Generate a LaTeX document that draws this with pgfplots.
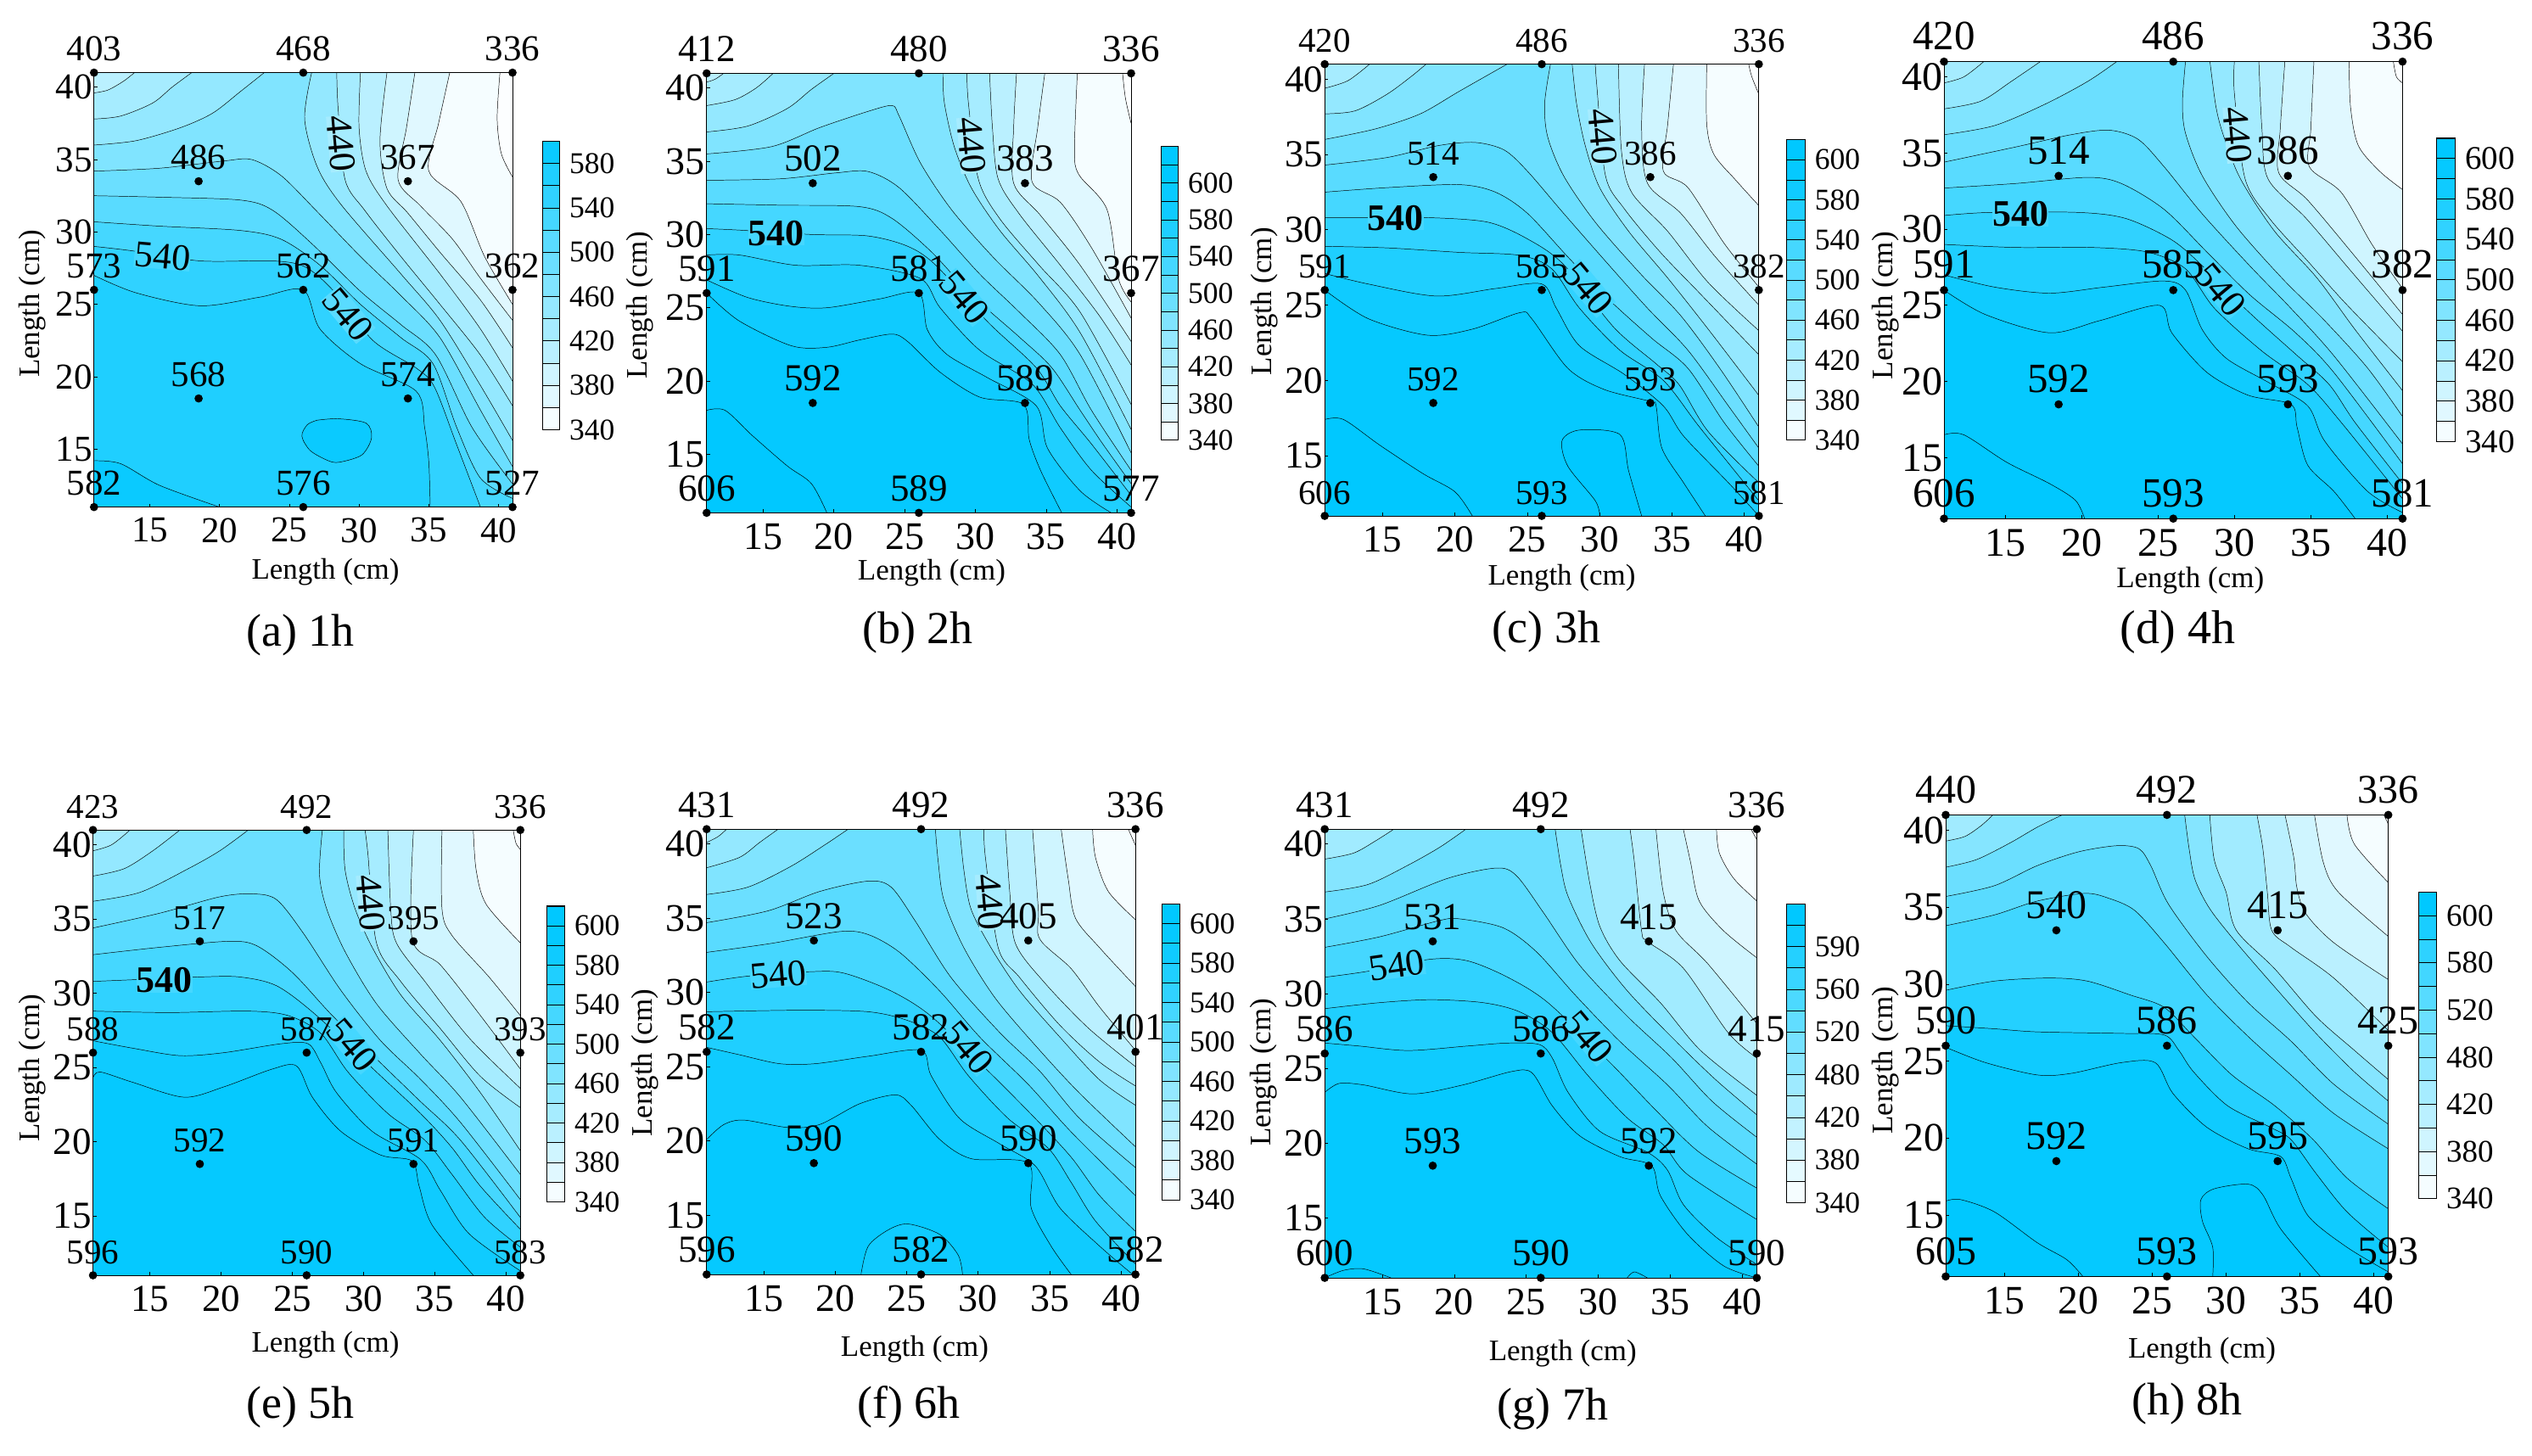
\documentclass[border=0pt]{standalone}
\usepackage{pgfplots}
\pgfplotsset{compat=1.18}
\usepackage{fontspec}
\setmainfont{Liberation Serif}
\definecolor{cb}{RGB}{0,200,255}
\newcommand\fs[1]{\fontsize{#1pt}{#1pt}\selectfont}
\newcommand\Cx[3]{%
 \addplot[smooth,draw=none,fill=cb!#1!white,forget plot] coordinates {#2} #3;
 \addplot[smooth,black,line width=.12pt,forget plot] coordinates {#2};}
\newcommand\TR[2]{\Cx{#1}{#2}{-- (axis cs:41,41) -- cycle}}
\newcommand\LR[2]{\Cx{#1}{#2}{-- (axis cs:41,41) -- (axis cs:11,41) -- cycle}}
\newcommand\LB[2]{\Cx{#1}{#2}{-- (axis cs:41,11) -- (axis cs:41,41) -- (axis cs:11,41) -- cycle}}
\newcommand\TL[2]{\Cx{#1}{#2}{-- (axis cs:11,41) -- cycle}}
\newcommand\BL[2]{\Cx{#1}{#2}{-- (axis cs:11,11) -- cycle}}
\newcommand\CY[2]{\Cx{#1}{#2}{-- cycle}}
\newcommand\Lb[5]{\node[rotate=#3,fill=cb!#4!white,inner sep=0pt,font=\fs{11}] at (axis cs:#1,#2) {#5};}
\newcommand\Bars[1]{\foreach \bp [count=\bi from 0] in {#1}{\pgfmathtruncatemacro\bj{\bi+1}\edef\tmpA{\noexpand\addplot[fill=cb!\bp!white,draw=black,line width=.15pt,forget plot] coordinates {(0,\bi)(1,\bi)(1,\bj)(0,\bj)} -- cycle;}\tmpA}}
\pgfplotsset{
 pan/.style n args={3}{scale only axis,anchor=south west,xmin=11,xmax=41,ymin=11,ymax=41,
  xtick={15,20,...,40},ytick={15,20,...,40},tick align=inside,xtick pos=bottom,ytick pos=left,
  major tick length=1pt,axis on top,axis line style={line width=.2pt},every tick/.style={black,line width=.2pt},
  /pgf/number format/assume math mode=true,
  tick label style={font=\fs{#2}},
  xticklabel style={inner sep=0pt,yshift=-3pt},
  yticklabel style={inner sep=0pt,xshift=-.3pt},
  xlabel=Length (cm),ylabel=Length (cm),
  label style={font=\fs{8.75}},
  axis background/.style={fill=cb!#1!white},
  every node near coord/.append style={font=\fs{#3},anchor=south,inner sep=0pt,yshift=3.2pt,black}},
 cbar/.style n args={2}{scale only axis,anchor=south west,xmin=0,xmax=1,ymin=0,ymax=#1,xtick=\empty,
  ytick pos=right,yticklabel pos=right,major tick length=0pt,axis on top,axis line style={line width=.2pt},
  tick label style={font=\fs{#2}},yticklabel style={inner sep=0pt,xshift=2.7pt}},
 dots/.style={only marks,mark=*,mark size=1pt,black,point meta=explicit symbolic,nodes near coords,forget plot},
 xl/.style 2 args={xlabel style={at={(axis description cs:#1,#2)},anchor=center}},
 yl/.style 2 args={ylabel style={at={(axis description cs:#1,#2)},anchor=center,rotate=0}}
}
\begin{document}
\begin{tikzpicture}
\path[use as bounding box] (0pt,0pt) rectangle (746pt,-428.75pt);
% ---------- (a)
\begin{axis}[pan={88}{10.75}{10.75},at={(27.7pt,-149.4pt)},width=123.3pt,height=128pt,xl={.553}{-.149},yl={-.148}{.468}]
\BL{96}{(11,14.2)(12.9,14)(15.7,12.5)(20,11)}
\CY{96}{(27,17)(28.5,17.1)(30.5,16.8)(30.9,15.8)(30.2,14.6)(28.6,14.1)(27.8,14.2)(26.5,14.9)(25.9,15.9)(26.3,16.7)(27,17)}
\LB{81}{(11,27)(14,25.8)(18.6,24.9)(22.9,25.5)(26,26)(27.2,23.3)(30.1,20.9)(34.1,19)(34.7,16.5)(35,14.1)(35.1,11)}
\LB{73}{(11,29)(13.7,28.7)(18.6,28)(23.8,28)(26.1,27.6)(28.1,26)(31,22.5)(34.1,20.6)(35.4,19.3)(37,15.3)(38.7,11)}
\LR{65}{(11,30.7)(15.7,30.4)(21.5,30.1)(24.4,29.5)(27.2,27.7)(30.1,25)(33,22.7)(35.3,20.9)(37,16.5)(38.7,13)(41,11.6)}
\LR{58}{(11,32.5)(15.7,32.4)(21.5,32.2)(23.8,31.5)(26.6,29.2)(30.1,25.9)(33,23.6)(35.5,21.5)(38.1,16.5)(41,12.6)}
\LR{50}{(11,34.2)(15.7,34.4)(20.3,34.9)(22.3,35)(24.4,33.9)(26.9,31.5)(30.1,28.3)(33,25.6)(35.8,22.7)(38.7,17.7)(41,13.8)}
\TL{42}{(11,36)(14,36.3)(17.2,37.2)(19.5,38.2)(21.5,39.7)(23.2,41)}
\TR{42}{(26.6,41)(26.1,37.8)(27,34.5)(28.7,31.9)(33,27.1)(35.8,23.9)(38.7,19.4)(41,15.6)}
\TL{35}{(11,37.8)(12.9,38)(15.2,38.9)(16.6,40)(18,41)}
\TR{35}{(28.4,41)(28.5,38.5)(29,33.6)(30.4,31.5)(33,28.3)(35.8,25)(38.7,21.5)(41,18)}
\TL{27}{(11,39.6)(12,39.8)(13.1,40.4)(13.9,41)}
\TR{27}{(30.1,41)(30,37.2)(30.5,34.2)(32,31.8)(35.8,27.1)(38.7,23.3)(41,19.7)}
\TR{19}{(32,41)(31.5,36.3)(32,33)(33.5,31.3)(35.8,28.6)(38.7,25.3)(41,22)}
\TR{12}{(34,41)(33.4,37.2)(32.8,33.6)(34.4,31.8)(36.7,29.5)(38.7,26.8)(41,23.9)}
\TR{4}{(36.5,41)(35.7,37.5)(35,34.2)(37.3,32.1)(39,28.3)(41,25)}
\TR{1}{(40.1,41)(39.9,37.8)(40.2,35.4)(41,33.8)}
\addplot[dots] coordinates {(11,41)[403](26,41)[468](41,41)[336](18.5,33.5)[486](33.5,33.5)[367](11,26)[573](26,26)[562](41,26)[362](18.5,18.5)[568](33.5,18.5)[574](11,11)[582](26,11)[576](41,11)[527]};
\Lb{28.7}{36.1}{-85}{35}{440}\Lb{15.9}{28.3}{-5}{73}{540}\Lb{29.2}{24.3}{-50}{65}{540}
\end{axis}
\begin{axis}[cbar={13}{8.9},at={(159.9pt,-126.6pt)},width=4.95pt,height=85pt,ytick={0,2,...,12},yticklabels={340,380,420,460,500,540,580}]
\Bars{4,12,19,27,35,42,50,58,65,73,81,88,96}
\end{axis}
\node[font=\fs{13.5}] at (88.5pt,-187pt) {(a) 1h};
% ---------- (b)
\begin{axis}[pan={98}{11.5}{11.25},at={(208.2pt,-151.1pt)},width=125.05pt,height=129.5pt,xl={.53}{-.136},yl={-.157}{.472}]
\BL{100}{(11,18)(12.3,18)(14.2,16.3)(16.7,14.2)(18.4,13)(19.5,11)}
\LB{94}{(11,26)(13.3,24.1)(17,22.4)(19.5,22.3)(21.8,22.8)(24.1,23.2)(25.2,22.7)(27.5,20.6)(30.3,18.9)(33.4,18.4)(33.8,16)(34.6,13.9)(36.1,11)}
\LB{88}{(11,26.9)(13.9,25.7)(16.9,25.1)(19.5,25)(23.2,25.6)(26,26)(26.6,23.5)(28,21.8)(30.9,20.2)(34.3,18.3)(35.1,15.4)(37.4,12.5)(39.6,11)}
\LR{81}{(11,28.6)(13.3,28.6)(17.3,27.9)(21.8,27.9)(26.1,27)(27.5,25)(30.3,22.1)(34,19.8)(36,16.8)(38.2,13.9)(41,11.4)}
\LR{73}{(11,30.4)(13.3,30.3)(18.4,30)(22.4,29.9)(25.2,29.2)(27.2,27.9)(30.9,24)(34.3,20.9)(36,18.3)(38.2,15.7)(41,12.2)}
\LR{65}{(11,32.1)(16.2,32)(21.8,31.9)(24.1,31.1)(26.9,28.8)(29.7,25.9)(33.1,23)(35.4,20.9)(37.4,18)(39,15.7)(41,13)}
\LR{58}{(11,33.7)(16.2,33.8)(20.1,34.2)(22.4,34.3)(24.6,33.2)(27.5,30.3)(30.3,27.3)(33.1,24.7)(36,21.8)(38.2,18)(41,13.9)}
\LR{50}{(11,35.5)(15.6,36)(19,37.3)(22.4,38.4)(24.1,38.8)(24.6,38.1)(26.1,34.9)(28.3,31.7)(31.2,28.5)(34.5,25.3)(37.4,21.8)(41,15.1)}
\TL{42}{(11,37)(13.9,37.4)(16.7,38.6)(18.4,39.9)(20,41)}
\TR{42}{(27.7,41)(27.8,39)(28.5,36)(29.7,33.2)(31.7,30.3)(34.5,27.1)(37.4,23.3)(41,16.7)}
\TL{35}{(11,38.8)(13,39.2)(14.5,40)(15.7,41)}
\TR{35}{(29.4,41)(29.5,39)(30.2,33.8)(31.7,31.1)(34.5,27.9)(37.4,24.7)(41,18.4)}
\TL{27}{(11,40.4)(11.6,40.6)(12.2,41)}
\TR{27}{(31,41)(31.2,37.3)(31.6,33.8)(33.1,31.4)(36,27.9)(38.8,24.4)(41,21.1)}
\TR{19}{(32.9,41)(32.7,37.3)(32.7,33.5)(34.6,31.3)(37.4,27.9)(41,22.7)}
\TR{12}{(34.9,41)(34.4,37.3)(34,33.6)(36,32.2)(38.2,29.1)(41,24.3)}
\TR{4}{(37.2,41)(37,35.8)(37.3,34.1)(39.3,31.7)(40.1,27)(41,25.4)}
\TR{1}{(40.4,41)(40.6,39.3)(41,37.6)}
\addplot[dots] coordinates {(11,41)[412](26,41)[480](41,41)[336](18.5,33.5)[502](33.5,33.5)[383](11,26)[591](26,26)[581](41,26)[367](18.5,18.5)[592](33.5,18.5)[589](11,11)[606](26,11)[589](41,11)[577]};
\Lb{29.7}{36.1}{-85}{35}{440}\Lb{15.9}{30.1}{0}{73}{\bfseries 540}\Lb{29.2}{25.7}{-50}{73}{540}
\end{axis}
\begin{axis}[cbar={16}{8.9},at={(342pt,-129.7pt)},width=5.1pt,height=86.65pt,ytick={0,2,...,14},yticklabels={340,380,420,460,500,540,580,600}]
\Bars{4,12,19,27,35,42,50,58,65,73,81,88,94,97,100,100}
\end{axis}
\node[font=\fs{13.5}] at (270.4pt,-186.4pt) {(b) 2h};
% ---------- (c)
\begin{axis}[pan={98}{11.25}{10.25},at={(390.3pt,-152pt)},width=127.9pt,height=133.1pt,xl={.546}{-.137},yl={-.139}{.475}]
\BL{100}{(11,17.4)(12.3,17.4)(14.8,15.7)(17.8,13.8)(20,12.6)(21.2,11)}
\CY{100}{(30,11)(29.7,12)(27.8,14.3)(27.4,16)(28.6,16.7)(31.4,16.4)(32,14)(32.9,11)}
\LB{94}{(11,26)(14,24.1)(18.1,23)(21.2,23.4)(24.5,24.5)(25.3,24.1)(27.8,20.8)(30.3,19.4)(33.5,18.6)(33.9,18.3)(34.3,15.5)(35.8,13.2)(37.3,11)}
\LR{88}{(11,27.1)(14,26.4)(18.7,25.6)(22.8,26.1)(26,26.4)(27,24.8)(28.6,22.3)(31.7,20.4)(34.4,18.3)(35.8,16.3)(38.9,13.2)(41,11)}
\LR{81}{(11,28.9)(15.3,28.8)(20.3,28.5)(24.5,28.3)(26.7,27.4)(28.6,24.8)(31.4,22)(34.4,20)(36.9,16.9)(41,12)}
\LR{73}{(11,30.8)(14,30.8)(18.4,30.8)(22.3,30.5)(25,29.4)(27.5,27.7)(31,23.5)(33.9,21.1)(35.5,19.7)(37.5,16.6)(41,13.2)}
\LR{65}{(11,32.5)(15.3,32.8)(20.3,33)(22.8,32.5)(25,31.1)(27.8,28.2)(30.6,25.4)(33.6,22.8)(36.1,20.8)(38.6,17.2)(41,14.3)}
\LR{58}{(11,34.3)(15.3,34.8)(18.9,35.6)(21.4,35.8)(23.4,35.3)(25,33.9)(27.5,31.1)(30.6,27.7)(33.3,24.8)(36.1,22)(38.9,18.3)(41,15.5)}
\TL{50}{(11,36)(14.5,36.7)(17.6,37.7)(20.3,39.2)(23.6,41)}
\TR{50}{(26.6,41)(26.2,38.4)(26.4,36.2)(27.5,33.6)(29.7,30.5)(32.8,27.1)(35.6,24.3)(38.3,20.8)(41,16.9)}
\TL{42}{(11,37.7)(13.1,37.9)(15.3,39)(17,40.2)(18,41)}
\TR{42}{(28.1,41)(28.4,38.4)(29,35.6)(30,32.8)(32,29.9)(34.7,26.8)(37.5,23.4)(41,19)}
\TL{35}{(11,39.4)(12.6,39.9)(14.1,41)}
\TR{35}{(29.7,41)(29.8,39.6)(30.4,33.6)(31.7,31.4)(34.2,28.5)(37,25.7)(41,21.7)}
\TR{27}{(31.3,41)(31.5,35.3)(32.2,32.5)(34.7,29.9)(37.5,26.5)(41,23.3)}
\TR{19}{(33.1,41)(32.9,36.7)(33.3,33.1)(35.6,31.1)(38,28.2)(41,25)}
\TR{12}{(35.1,41)(34.7,37)(34.4,33.9)(36.1,32.8)(38.6,29.1)(41,26.2)}
\TR{4}{(37.4,41)(37.4,37)(37.9,35)(39.4,33.3)(41,31.6)}
\TR{1}{(40.3,41)(40.5,40.2)(41,39)}
\addplot[dots] coordinates {(11,41)[420](26,41)[486](41,41)[336](18.5,33.5)[514](33.5,33.5)[386](11,26)[591](26,26)[585](41,26)[382](18.5,18.5)[592](33.5,18.5)[593](11,11)[606](26,11)[593](41,11)[581]};
\Lb{30.2}{36.2}{-85}{35}{440}\Lb{15.9}{30.8}{0}{73}{\bfseries 540}\Lb{29.2}{26.1}{-50}{73}{540}
\end{axis}
\begin{axis}[cbar={15}{8.9},at={(526.4pt,-129.7pt)},width=5.4pt,height=88.55pt,ytick={0,2,...,14},yticklabels={340,380,420,460,500,540,580,600}]
\Bars{4,12,19,27,35,42,50,58,65,73,81,88,94,98,100}
\end{axis}
\node[font=\fs{13.5}] at (455.6pt,-186.15pt) {(c) 3h};
% ---------- (d)
\begin{axis}[pan={98}{12}{12.25},at={(572.75pt,-152.8pt)},width=135.1pt,height=134.65pt,xl={.537}{-.136},yl={-.127}{.466}]
\BL{100}{(11,16.5)(12.3,16.5)(15.1,14.7)(17.9,13.3)(19.6,12.2)(20.2,11)}
\LB{94}{(11,26)(13.7,24.4)(17.9,23.2)(21.2,24)(25.1,25)(25.9,23.2)(28.2,20.6)(30.9,19.1)(33.7,18.5)(34.1,17)(34.8,14.5)(36.5,12.8)(37.9,11)}
\LR{88}{(11,27)(14.3,26.2)(17.9,25.8)(21.5,26.2)(25.4,26.6)(26.8,26)(27.9,23.4)(29.5,21.5)(32.3,19.9)(34.8,18.4)(35.9,16.1)(38.7,12.8)(41,11.4)}
\LR{81}{(11,29)(15.7,28.8)(20.7,28.8)(24.3,28.5)(26.8,27.4)(28.7,24.8)(31.8,22)(34.8,19.8)(37,17.3)(41,12.3)}
\LR{73}{(11,30.9)(14,31.1)(19.8,31.1)(22.9,30.7)(25.9,29.3)(27.9,27.6)(30.9,24.6)(34,21.8)(36.2,19.8)(37.9,17.3)(41,13.3)}
\LR{65}{(11,32.7)(15.7,33)(20.4,33.4)(22.6,33)(25.4,31.3)(28.2,28.5)(31,25.7)(34,23.2)(36.5,20.6)(41,14.6)}
\LR{58}{(11,34.4)(15.7,35.4)(19.3,36.2)(21.8,36.5)(23.7,35.9)(25.4,34.1)(27.9,31)(31,27.6)(33.7,24.8)(36.5,21.7)(41,15.9)}
\TL{50}{(11,36.2)(14.3,36.8)(17.6,38.2)(20.4,39.7)(22.3,41)}
\TR{50}{(26.8,41)(26.6,38.3)(26.8,36.3)(27.9,33.5)(30.1,30.2)(33.1,26.8)(35.9,24)(38.7,20.9)(41,17.7)}
\TL{42}{(11,37.9)(13.4,38.4)(15.4,39.7)(17.3,41)}
\TR{42}{(28.4,41)(28.8,38)(29.3,36.1)(30.4,33.3)(32.6,29.9)(35.4,26.8)(37.9,23.4)(41,19.4)}
\TL{35}{(11,39.6)(12.3,40)(13.6,41)}
\TR{35}{(30,41)(30,38.9)(30.7,33.3)(32.3,30.7)(34.8,27.9)(37.3,25.1)(41,21.3)}
\TR{27}{(31.6,41)(31.8,36.6)(32.2,33.3)(34.7,30.7)(37.5,27.4)(41,23.3)}
\TR{19}{(33.3,41)(33,36.6)(32.9,33.7)(34.8,31.9)(37.9,28.2)(41,24.4)}
\TR{12}{(35.2,41)(35,36.6)(34.9,34.1)(37,32.4)(39,29)(41,26.1)}
\TR{4}{(37.5,41)(37.6,38)(38.1,35.5)(39.5,33.8)(41,32.6)}
\TR{1}{(40.4,41)(40.6,40)(41,39.6)}
\addplot[dots] coordinates {(11,41)[420](26,41)[486](41,41)[336](18.5,33.5)[514](33.5,33.5)[386](11,26)[591](26,26)[585](41,26)[382](18.5,18.5)[592](33.5,18.5)[593](11,11)[606](26,11)[593](41,11)[581]};
\Lb{30.2}{36.2}{-85}{35}{440}\Lb{16}{31}{0}{73}{\bfseries 540}\Lb{29.1}{26}{-50}{73}{540}
\end{axis}
\begin{axis}[cbar={15}{9.75},at={(717.9pt,-130.1pt)},width=5.5pt,height=89.4pt,ytick={0,2,...,14},yticklabels={340,380,420,460,500,540,580,600}]
\Bars{4,12,19,27,35,42,50,58,65,73,81,88,94,98,100}
\end{axis}
\node[font=\fs{14}] at (641.6pt,-186.15pt) {(d) 4h};
% ---------- (e)
\begin{axis}[pan={98}{11.25}{10.25},at={(27.4pt,-375.75pt)},width=125.9pt,height=131.2pt,xl={.544}{-.156},yl={-.142}{.465}]
\LB{94}{(11,24.3)(11.5,24.7)(13.8,24)(17.4,23)(20.2,23.7)(23.6,24.9)(25.3,25.1)(26.4,23)(28.4,20.7)(31.2,19.1)(33.4,18.7)(33.9,17)(34.8,14.4)(37.7,11)}
\LR{88}{(11,26.8)(13.8,26.3)(17.1,25.8)(20.2,26)(24.2,26.6)(26.1,26.6)(27,25.3)(28.1,23.3)(30.6,20.7)(34,18.8)(35.4,16.7)(37.4,13.8)(41,11.3)}
\LR{81}{(11,28.8)(16.3,28.7)(21.9,28.8)(24.7,28.5)(27,27.3)(28.9,24.7)(31.7,21.9)(34.3,20.1)(36.2,17.8)(38.5,14.9)(41,12.9)}
\LR{73}{(11,30.8)(13.5,30.9)(18.5,31.1)(21.3,31.1)(23.9,30.5)(26.7,28.5)(30.9,24.7)(34,21.9)(36.2,19.6)(38.2,17)(41,14.1)}
\LR{65}{(11,32.6)(15.7,33.1)(20.5,33.5)(22.5,33.2)(25,31.4)(27.8,28.5)(31.2,25.3)(34,22.7)(36.8,20.1)(41,14.9)}
\LR{58}{(11,34.4)(15.7,35.4)(19.9,36.5)(22.2,36.7)(23.9,36.3)(25.8,34)(28.4,30.2)(31.2,26.8)(34,24.2)(36.8,21.3)(41,16.1)}
\TL{50}{(11,36.2)(14.3,36.8)(17.7,38.4)(19.9,39.6)(21.9,41)}
\TR{50}{(27.1,41)(26.9,38)(27.4,35.7)(28.7,32.8)(30.9,29.3)(34,25.9)(36.8,23)(41,17.8)}
\TL{42}{(11,37.9)(13.2,38.4)(15.2,39.6)(17.1,41)}
\TR{42}{(28.6,41)(28.7,38.3)(29.4,35.7)(30.6,33.1)(32.6,29.9)(35.4,26.8)(38.2,23.3)(41,19.4)}
\TL{35}{(11,39.6)(12.3,40)(13.6,41)}
\TR{35}{(30.1,41)(30.3,39.4)(30.9,33.4)(32.6,30.8)(35.4,27.6)(38.2,24.4)(41,22.3)}
\TR{27}{(31.7,41)(31.9,35.7)(32.3,33.4)(34.3,30.8)(37.4,27)(41,23.6)}
\TR{19}{(33.5,41)(33.4,33.7)(35.4,31.9)(38.2,28.5)(41,24.9)}
\TR{12}{(35.5,41)(35.5,35.7)(36.2,33.9)(38.8,31.1)(41,28.5)}
\TR{4}{(37.7,41)(37.9,38.3)(38.6,36)(41,33.4)}
\TR{1}{(40.5,41)(40.7,40.1)(41,39.7)}
\addplot[dots] coordinates {(11,41)[423](26,41)[492](41,41)[336](18.5,33.5)[517](33.5,33.5)[395](11,26)[588](26,26)[587](41,26)[393](18.5,18.5)[592](33.5,18.5)[591](11,11)[596](26,11)[590](41,11)[583]};
\Lb{30.5}{36.1}{-85}{35}{440}\Lb{16}{30.9}{0}{73}{\bfseries 540}\Lb{29.2}{26.5}{-50}{73}{540}
\end{axis}
\begin{axis}[cbar={15}{8.9},at={(161.05pt,-354.1pt)},width=5.3pt,height=87.15pt,ytick={0,2,...,14},yticklabels={340,380,420,460,500,540,580,600}]
\Bars{4,12,19,27,35,42,50,58,65,73,81,88,94,98,100}
\end{axis}
\node[font=\fs{13.5}] at (88.5pt,-414.5pt) {(e) 5h};
% ---------- (f)
\begin{axis}[pan={98}{11.5}{11.25},at={(208.2pt,-375.5pt)},width=126.35pt,height=131.2pt,xl={.485}{-.168},yl={-.143}{.475}]
\CY{94}{(21.8,11)(22.3,12.9)(23.7,14)(25.1,14.4)(27.3,13.7)(28.6,12.3)(28.9,11)}
\LB{94}{(11,20.1)(12.2,21.1)(13.6,21.4)(16.7,20.9)(18.9,21.1)(21.7,22.5)(24.2,23.1)(25.3,22.4)(27.3,20.1)(29.5,18.8)(33.5,18.5)(33.7,15.5)(35.1,12.9)(36.5,11)}
\LB{88}{(11,26.3)(13.3,25.8)(16.1,25.2)(18.6,25.2)(22.3,25.7)(26,26.1)(26.7,24.4)(28.7,21.5)(31.5,19.8)(34,18.3)(35.7,15.5)(38.5,12.9)(40.8,11)}
\LR{81}{(11,28.7)(17.4,28.8)(22.3,28.7)(25.1,28.1)(27.3,27)(29.3,24.4)(32.1,21.5)(34.9,19.5)(36.5,17.2)(38.2,14.6)(41,11.7)}
\LR{73}{(11,30.7)(13.9,31.1)(18.3,31.4)(20.6,31.3)(23.9,30.1)(26.7,28.4)(30.7,24.7)(34,21.5)(36.5,18.9)(38.5,16.3)(41,13.9)}
\LR{65}{(11,32.7)(15.5,33.3)(20.3,34.1)(22.3,33.9)(24.5,32.7)(27.3,30.1)(30.1,27)(33.5,23.8)(36.5,20.6)(41,16.3)}
\LR{58}{(11,34.7)(15.3,35.5)(18.9,36.8)(22.3,37.5)(23.9,37.1)(25.6,34.8)(28.1,31)(31.5,27.3)(34.3,24.7)(37.1,21.5)(41,18.2)}
\TL{50}{(11,36.6)(13.9,37.1)(16.9,38.5)(19.2,39.9)(20.9,41)}
\TR{50}{(27,41)(27.2,38.8)(27.6,36.2)(29,33)(31.2,29.6)(34.3,26.1)(37.1,23.2)(41,19.6)}
\TL{42}{(11,38.4)(13.3,39.1)(14.7,40.1)(16,41)}
\TR{42}{(28.7,41)(29,38.2)(29.5,35.6)(30.9,33)(32.9,30.1)(35.7,27)(38.5,24.1)(41,22.4)}
\TL{35}{(11,40.1)(11.8,40.5)(12.4,41)}
\TR{35}{(30.4,41)(30.5,39.1)(31.4,33)(32.9,31)(35.7,27.8)(38.5,25.3)(41,23.7)}
\TR{27}{(31.9,41)(32.2,36.8)(32.6,33.3)(34.6,30.7)(37.7,27.6)(41,25)}
\TR{19}{(33.8,41)(34.2,35.6)(34.3,33.6)(36.5,31.6)(38.5,29)(41,26.1)}
\TR{12}{(35.8,41)(36.3,37.6)(36.8,35)(38.5,33)(41,30.4)}
\TR{4}{(38,41)(38.2,39.1)(39.1,36.8)(41,34.9)}
\TR{1}{(40.5,41)(41,39.9)}
\addplot[dots] coordinates {(11,41)[431](26,41)[492](41,41)[336](18.5,33.5)[523](33.5,33.5)[405](11,26)[582](26,26)[582](41,26)[401](18.5,18.5)[590](33.5,18.5)[590](11,11)[596](26,11)[582](41,11)[582]};
\Lb{30.8}{36.1}{-85}{35}{440}\Lb{16}{31.2}{5}{73}{540}\Lb{29.3}{26.3}{-50}{73}{540}
\end{axis}
\begin{axis}[cbar={15}{8.9},at={(342.4pt,-353.5pt)},width=5.2pt,height=87.2pt,ytick={0,2,...,14},yticklabels={340,380,420,460,500,540,580,600}]
\Bars{4,12,19,27,35,42,50,58,65,73,81,88,94,98,100}
\end{axis}
\node[font=\fs{13.5}] at (267.7pt,-414.5pt) {(f) 6h};
% ---------- (g)
\begin{axis}[pan={98}{11.5}{11.25},at={(390.3pt,-376.5pt)},width=127.3pt,height=132.2pt,xl={.551}{-.169},yl={-.142}{.458}]
\BL{100}{(11,11)(12.3,11.5)(13.7,11.6)(15.6,11)}
\CY{100}{(32,11)(32.5,11.4)(33.4,11)}
\LR{94}{(11,23.4)(12,24)(13.7,23.9)(17.1,23.3)(20.6,23.9)(24,24.8)(25.4,24.7)(26.8,22.5)(28.7,20.5)(31.5,19.1)(33.7,18.5)(34.3,16.5)(36.2,13.9)(38.7,11.8)(41,11)}
\LR{88}{(11,26.7)(13.4,26.5)(16.8,26.2)(20.9,26.5)(23.7,26.7)(25.9,26.6)(26.8,25.7)(27.9,23.4)(30.1,20.8)(33.4,19.4)(34.8,18.2)(35.9,15.9)(38.2,13.7)(41,11.9)}
\LR{81}{(11,29)(14.8,29.4)(18.4,29.6)(22,29.4)(24.5,28.8)(26.8,27.4)(29.3,24.5)(32,21.7)(34.5,19.9)(36.2,17.9)(41,14.9)}
\LR{73}{(11,31.1)(14,31.5)(18.3,32.3)(20.9,32.2)(23.7,31.1)(26.5,29.4)(30.7,25.5)(34,22.2)(37,19.4)(41,17)}
\LR{65}{(11,33.1)(14.8,33.8)(19,34.9)(20.4,35)(23.4,34.4)(25.7,32.8)(28.4,29.9)(31.5,26.8)(34.8,23.9)(37.6,21.1)(41,18.6)}
\LR{58}{(11,35)(14.8,35.9)(19.5,37.7)(22.9,38.4)(24.3,37.9)(26.2,35.4)(28.7,31.9)(32,28.5)(35.1,25.7)(37.9,22.8)(41,20.4)}
\TL{48}{(11,36.8)(14,37.3)(16.8,38.6)(19,39.8)(20.8,41)}
\TR{48}{(27,41)(27.4,38.5)(27.9,36.5)(29.5,33.4)(32,30.2)(35.4,26.8)(38.2,24.2)(41,21.9)}
\TL{37}{(11,39)(13,39.4)(14.5,40.2)(15.8,41)}
\TR{37}{(28.8,41)(29.4,37.4)(30.1,34.5)(31.5,32.2)(34.3,29.4)(37.1,26.2)(41,23.2)}
\TR{27}{(32.2,41)(32.5,38.8)(33,34.2)(33.4,33.5)(35.9,31.7)(39,27.4)(41,25.7)}
\TR{19}{(34,41)(34.5,36.8)(35.4,34.2)(37.6,32)(41,28)}
\TR{12}{(35.9,41)(36.4,38.8)(37,36.2)(38.7,34.2)(41,32.4)}
\TR{4}{(38.2,41)(38.4,39.4)(39.4,37.7)(41,36.2)}
\TR{1}{(40.6,41)(41,40.3)}
\addplot[dots] coordinates {(11,41)[431](26,41)[492](41,41)[336](18.5,33.5)[531](33.5,33.5)[415](11,26)[586](26,26)[586](41,26)[415](18.5,18.5)[593](33.5,18.5)[592](11,11)[600](26,11)[590](41,11)[590]};
\Lb{16}{31.9}{8}{73}{540}\Lb{29.3}{27.1}{-50}{73}{540}
\end{axis}
\begin{axis}[cbar={14}{8.9},at={(526.4pt,-354.35pt)},width=5.4pt,height=88.05pt,ytick={0,2,...,12},yticklabels={340,380,420,480,520,560,590}]
\Bars{4,10,17,24,31,38,46,54,62,70,78,86,94,100}
\end{axis}
\node[font=\fs{13.5}] at (457.5pt,-415.2pt) {(g) 7h};
% ---------- (h)
\begin{axis}[pan={98}{11.9}{12},at={(573.25pt,-376.1pt)},width=130.4pt,height=136pt,xl={.579}{-.162},yl={-.136}{.468}]
\BL{100}{(11,15.9)(12,16)(14.3,15.2)(17.2,13.2)(19.2,12.1)(20.3,11)}
\CY{100}{(29.1,11)(29.1,12.9)(28.4,14.6)(28.3,16)(29.2,16.7)(31.5,17)(32.5,16.3)(33.7,14.1)(36.4,11)}
\LR{94}{(11,25.9)(13.7,24.9)(17.2,24.1)(19.5,24.2)(22.9,24.9)(25.2,24.9)(26.4,22.9)(28.7,20.7)(31.5,19.3)(33.7,18.8)(34.4,17.4)(35.6,14.9)(38.2,12.9)(41,11.3)}
\LR{86}{(11,27.3)(14.3,27.1)(17.2,26.9)(22.9,26.8)(25.8,26.7)(26.8,25.7)(27.8,24.3)(30.1,22.1)(33,20.7)(34.4,19.9)(36.1,17.7)(38.2,15.2)(41,12.9)}
\LR{75}{(11,29.6)(14.3,30.2)(18,30.4)(20.6,30.2)(23.5,29.3)(25.8,28.5)(27.8,26.6)(30.4,24.1)(33.3,22.1)(35.9,19.9)(38.2,17.4)(41,15.4)}
\LR{65}{(11,33.8)(14.3,34.5)(17.2,35.4)(20.4,35.9)(22,35.6)(23.8,34.8)(25.8,32.7)(28.7,29.3)(31.5,26.6)(34.4,24.1)(37.3,21.6)(41,19.3)}
\LR{58}{(11,35.7)(14.3,36.4)(17.2,37.7)(20,38.6)(22.6,39)(24.1,38.8)(24.9,37.7)(26.1,35.2)(28.7,31.8)(31.5,28.8)(34.4,26.3)(37.3,23.5)(41,20.9)}
\TL{48}{(11,37.6)(13.1,38.1)(15.4,39.2)(17.2,40.2)(18.9,41)}
\TR{48}{(27.2,41)(27.5,38.8)(27.9,36.8)(28.9,34.9)(30.7,32.7)(33.5,29.6)(36.1,26.8)(38.7,24.3)(41,22.4)}
\TL{37}{(11,39.3)(12.3,39.6)(13.4,40.3)(14.2,41)}
\TR{37}{(28.9,41)(29.2,38.1)(30,36)(30.7,33.5)(33.3,31)(36.1,27.9)(38.7,25.7)(41,23.8)}
\TR{27}{(32.1,41)(32.5,38.8)(32.8,36)(33.1,33.5)(34.4,32.4)(37.3,30.4)(41,27)}
\TR{19}{(34,41)(34.6,38.2)(34.8,36.3)(35.4,34.6)(37.3,32.7)(41,30.3)}
\TR{12}{(36,41)(36.6,37.9)(37.6,36)(41,33.1)}
\TR{4}{(38.2,41)(38.7,39.1)(41,36.6)}
\TR{1}{(40.7,41)(41,40.4)}
\addplot[dots] coordinates {(11,41)[440](26,41)[492](41,41)[336](18.5,33.5)[540](33.5,33.5)[415](11,26)[590](26,26)[586](41,26)[425](18.5,18.5)[592](33.5,18.5)[595](11,11)[605](26,11)[593](41,11)[593]};
\end{axis}
\begin{axis}[cbar={13}{9.25},at={(712.6pt,-353.2pt)},width=5.25pt,height=90.4pt,ytick={0,2,...,12},yticklabels={340,380,420,480,520,580,600}]
\Bars{4,11,19,27,35,42,50,58,66,74,82,90,100}
\end{axis}
\node[font=\fs{13.5}] at (644.4pt,-413.7pt) {(h) 8h};
\end{tikzpicture}
\end{document}
